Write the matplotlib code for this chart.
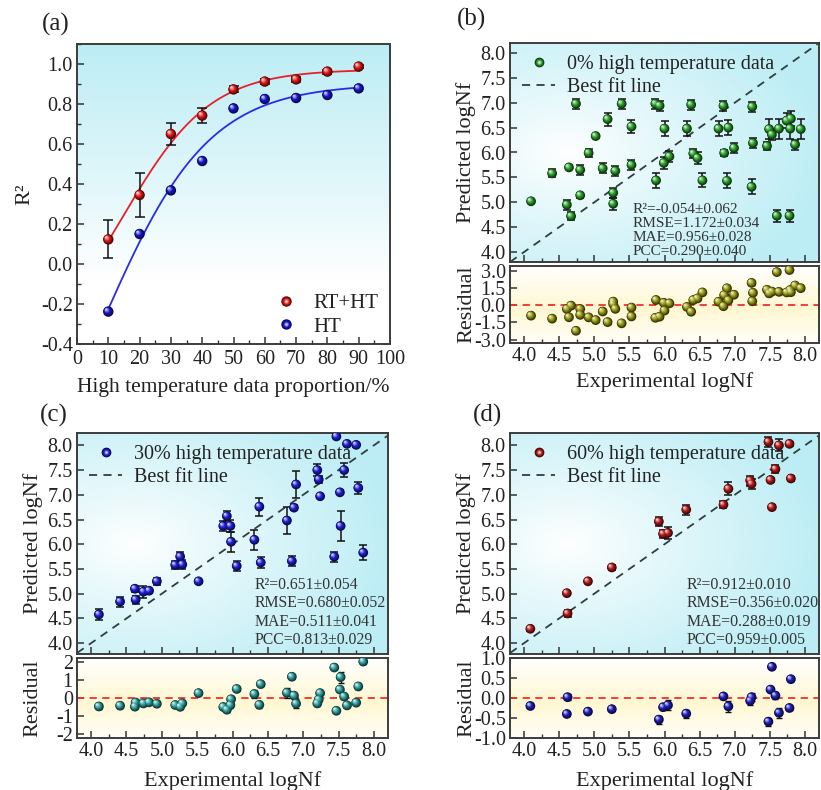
import numpy as np
import matplotlib
matplotlib.use("Agg")
import matplotlib.pyplot as plt
from matplotlib.colors import to_rgb
from matplotlib.transforms import offset_copy
from matplotlib.lines import Line2D
from matplotlib.legend_handler import HandlerTuple
from matplotlib.ticker import MultipleLocator, FormatStrFormatter

plt.rcParams["font.family"] = ["Liberation Serif", "DejaVu Serif"]
plt.rcParams["text.color"] = "#222222"
plt.rcParams["axes.labelcolor"] = "#222222"
plt.rcParams["xtick.color"] = "#333333"
plt.rcParams["ytick.color"] = "#333333"
plt.rcParams["xtick.labelcolor"] = "#222222"
plt.rcParams["ytick.labelcolor"] = "#222222"

# ---------------- (a) R^2 versus high temperature proportion ----------------
proportion = [10, 20, 30, 40, 50, 60, 70, 80, 90]
r2_rtht = [0.123, 0.345, 0.650, 0.742, 0.873, 0.912, 0.923, 0.962, 0.987]
r2_rtht_err = [0.095, 0.110, 0.053, 0.036, 0.015, 0.012, 0.012, 0.010, 0.008]
r2_ht = [-0.238, 0.150, 0.368, 0.515, 0.778, 0.825, 0.830, 0.845, 0.878]

# ---------------- (b) 0 % high temperature data ----------------
b_exp = [4.10, 4.40, 4.61, 4.64, 4.67, 4.74, 4.80, 4.80, 4.92, 5.02, 5.12, 5.19, 5.27, 5.27, 5.30,
         5.39, 5.53, 5.53, 5.87, 5.88, 5.93, 5.99, 6.00, 6.07, 6.32, 6.38, 6.41, 6.47, 6.54, 6.77,
         6.84, 6.85, 6.89, 6.91, 6.99, 7.24, 7.25, 7.26, 7.46, 7.49, 7.53, 7.60, 7.63, 7.74, 7.78,
         7.79, 7.80, 7.86, 7.94]
b_pred = [5.02, 5.58, 4.95, 5.70, 4.72, 6.98, 5.14, 5.65, 5.99, 6.33, 5.68, 6.67, 5.19, 4.97, 5.63,
          6.98, 6.52, 5.75, 6.98, 5.44, 6.94, 5.79, 6.48, 5.92, 6.48, 6.96, 5.98, 5.89, 5.44, 6.48,
          6.94, 5.99, 5.43, 6.50, 6.09, 5.31, 6.92, 6.19, 6.13, 6.47, 6.36, 4.73, 6.48, 6.64, 4.73,
          6.48, 6.68, 6.16, 6.47]
b_err = [0.03, 0.08, 0.10, 0.04, 0.08, 0.10, 0.05, 0.10, 0.08, 0.02, 0.10, 0.13, 0.10, 0.12, 0.10,
         0.10, 0.13, 0.10, 0.10, 0.15, 0.10, 0.12, 0.15, 0.12, 0.15, 0.10, 0.10, 0.12, 0.14, 0.15,
         0.10, 0.06, 0.15, 0.15, 0.10, 0.15, 0.10, 0.10, 0.08, 0.20, 0.10, 0.12, 0.20, 0.15, 0.12,
         0.20, 0.15, 0.10, 0.20]
b_stats = ["R\u00b2=-0.054\u00b10.062", "RMSE=1.172\u00b10.034", "MAE=0.956\u00b10.028", "PCC=0.290\u00b10.040"]

# ---------------- (c) 30 % high temperature data ----------------
c_exp = [4.11, 4.41, 4.62, 4.63, 4.74, 4.82, 4.93, 5.19, 5.26, 5.29, 5.52, 5.87, 5.92, 5.97, 5.98,
         6.06, 6.31, 6.38, 6.40, 6.77, 6.84, 6.87, 6.90, 7.20, 7.22, 7.24, 7.44, 7.47, 7.52, 7.53,
         7.58, 7.62, 7.75, 7.78, 7.85]
c_pred = [4.58, 4.84, 5.10, 4.88, 5.04, 5.06, 5.25, 5.58, 5.75, 5.59, 5.25, 6.37, 6.57, 6.37, 6.05,
          5.56, 6.09, 6.76, 5.63, 6.48, 5.66, 6.74, 7.21, 7.50, 7.31, 6.97, 5.75, 8.18, 7.05, 6.37,
          7.50, 8.03, 8.01, 7.14, 5.83]
c_err = [0.12, 0.10, 0.06, 0.08, 0.12, 0.04, 0.07, 0.08, 0.10, 0.10, 0.03, 0.10, 0.10, 0.12, 0.20,
         0.10, 0.20, 0.18, 0.12, 0.28, 0.10, 0.05, 0.27, 0.12, 0.08, 0.04, 0.10, 0.04, 0.04, 0.30,
         0.15, 0.04, 0.04, 0.12, 0.15]
c_stats = ["R\u00b2=0.651\u00b10.054", "RMSE=0.680\u00b10.052", "MAE=0.511\u00b10.041", "PCC=0.813\u00b10.029"]

# ---------------- (d) 60 % high temperature data ----------------
d_exp = [4.09, 4.61, 4.62, 4.91, 5.25, 5.92, 5.98, 6.05, 6.31, 6.84, 6.91, 7.22, 7.24, 7.48, 7.51,
         7.53, 7.58, 7.63, 7.78, 7.80]
d_pred = [4.29, 5.01, 4.60, 5.25, 5.53, 6.46, 6.21, 6.23, 6.70, 6.80, 7.12, 7.29, 7.22, 8.07, 7.30,
          6.75, 7.52, 8.00, 8.03, 7.33]
d_err = [0.04, 0.03, 0.07, 0.03, 0.05, 0.10, 0.08, 0.12, 0.10, 0.07, 0.13, 0.10, 0.10, 0.10, 0.04,
         0.04, 0.08, 0.12, 0.04, 0.05]
d_stats = ["R\u00b2=0.912\u00b10.010", "RMSE=0.356\u00b10.020", "MAE=0.288\u00b10.019", "PCC=0.959\u00b10.005"]

SPINE = "#3c3c3c"
CYAN = np.array([0.74, 0.93, 0.96])
YELLOW = np.array([1.0, 0.97, 0.82])


def fit_boltzmann(x, y):
    """Least-squares fit of y = A2 + (A1 - A2) / (1 + exp((x - x0) / dx))."""
    x = np.asarray(x, float)
    y = np.asarray(y, float)
    X0, DX = np.meshgrid(np.linspace(-20, 60, 321), np.linspace(2, 40, 305))
    X0 = X0.ravel()[:, None]
    DX = DX.ravel()[:, None]
    w = 1.0 / (1.0 + np.exp((x[None, :] - X0) / DX))
    v = 1.0 - w
    a, b, c = (w * w).sum(1), (w * v).sum(1), (v * v).sum(1)
    d1, d2 = (w * y).sum(1), (v * y).sum(1)
    det = a * c - b * b
    det[np.abs(det) < 1e-10] = np.nan
    A1 = (d1 * c - b * d2) / det
    A2 = (a * d2 - b * d1) / det
    sse = (((A1[:, None] * w + A2[:, None] * v) - y) ** 2).sum(1)
    sse[~np.isfinite(sse)] = np.inf
    k = int(np.argmin(sse))
    return A1[k], A2[k], X0[k, 0], DX[k, 0]


def boltzmann(x, A1, A2, x0, dx):
    return A2 + (A1 - A2) / (1.0 + np.exp((x - x0) / dx))


def sphere_colors(base, n=7):
    rgb = np.array(to_rgb(base))
    dark = rgb * 0.32
    light = rgb + (1 - rgb) * 0.8
    cols = []
    for i in range(n):
        t = i / (n - 1)
        if t < 0.5:
            cols.append(dark + (rgb - dark) * (t / 0.5))
        else:
            cols.append(rgb + (light - rgb) * ((t - 0.5) / 0.5))
    return cols


def spheres(ax, x, y, base, size=7.0, z=5):
    cols = sphere_colors(base)
    n = len(cols)
    for i, col in enumerate(cols):
        t = i / (n - 1)
        d = size * (1 - 0.82 * t)
        off = size * 0.2 * t
        tr = offset_copy(ax.transData, fig=ax.figure, x=-off, y=off, units="points")
        ax.scatter(x, y, s=d ** 2, color=col, edgecolors="none", transform=tr, zorder=z + 0.01 * i)


def sphere_handle(base, size=7.0):
    return tuple(Line2D([], [], ls="none", marker="o", ms=size * (1 - 0.82 * i / 6), mfc=c, mec="none")
                 for i, c in enumerate(sphere_colors(base)))


def background(ax, kind):
    H, W = 200, 200
    v = np.linspace(1, 0, H)[:, None] * np.ones((1, W))
    u = np.ones((H, 1)) * np.linspace(0, 1, W)[None, :]
    if kind == "vertical":
        t = np.clip((v - 0.22) / 0.78, 0, 1) ** 0.9
        col = CYAN
    elif kind == "radial":
        r = np.hypot((u - 0.18) * 1.0, (v - 0.5) * 1.15)
        t = np.clip(r / 0.85, 0, 1) ** 0.9
        col = CYAN
    else:
        t = np.clip(1 - np.abs(v - 0.45) / 0.6, 0, 1) ** 1.2
        col = YELLOW
    img = np.ones((H, W, 3)) * (1 - t[..., None]) + col[None, None, :] * t[..., None]
    ax.imshow(img, extent=[0, 1, 0, 1], transform=ax.transAxes, aspect="auto",
              interpolation="bilinear", zorder=0)


def style(ax):
    for s in ax.spines.values():
        s.set_color(SPINE)
        s.set_linewidth(1.4)
    ax.tick_params(which="both", direction="in", top=False, right=False, labelsize=14.5, pad=3)
    ax.tick_params(which="major", length=5, width=1.1)
    ax.tick_params(which="minor", length=3, width=1.0)


def add_ax(left, top, right, bottom):
    return fig.add_axes([left / 821, 1 - bottom / 790, (right - left) / 821, (bottom - top) / 790])


TUPLE_HANDLER = {tuple: HandlerTuple(ndivide=1, pad=0)}

fig = plt.figure(figsize=(8.21, 7.90), dpi=100)

# ---------------- panel (a) ----------------
ax = add_ax(77, 44, 390, 344)
background(ax, "vertical")
xs = np.linspace(min(proportion), max(proportion), 300)
ax.plot(xs, boltzmann(xs, *fit_boltzmann(proportion, r2_rtht)), color="#e8202a", lw=1.3, zorder=3)
ax.plot(xs, boltzmann(xs, *fit_boltzmann(proportion, r2_ht)), color="#2a2aee", lw=1.3, zorder=3)
ax.errorbar(proportion, r2_rtht, yerr=r2_rtht_err, fmt="none", ecolor="#111111", elinewidth=1.1,
            capsize=3.5, capthick=1.1, zorder=4)
spheres(ax, proportion, r2_rtht, "#e81818", size=7.5)
spheres(ax, proportion, r2_ht, "#1818d8", size=7.5)
ax.set_xlim(0, 100)
ax.set_ylim(-0.4, 1.1)
ax.xaxis.set_major_locator(MultipleLocator(10))
ax.xaxis.set_minor_locator(MultipleLocator(5))
ax.yaxis.set_major_locator(MultipleLocator(0.2))
ax.yaxis.set_minor_locator(MultipleLocator(0.1))
ax.yaxis.set_major_formatter(FormatStrFormatter("%.1f"))
style(ax)
ax.tick_params(axis="x", pad=4)
ax.set_xlabel("High temperature data proportion/%", fontsize=15.5, labelpad=7)
ax.set_ylabel("R\u00b2", fontsize=16)
ax.yaxis.set_label_coords(-0.135, 0.5)
ax.legend([sphere_handle("#e81818", 7.5), sphere_handle("#1818d8", 7.5)], ["RT+HT", "HT"],
          handler_map=TUPLE_HANDLER, loc="lower right", bbox_to_anchor=(0.985, 0.0),
          frameon=False, fontsize=15, handlelength=1.2, handletextpad=0.7, labelspacing=0.2,
          borderaxespad=0.0, borderpad=0.35)
fig.text(56 / 821, 1 - 24 / 790, "(a)", fontsize=18, ha="center", va="center")


def parity_panel(main_box, res_box, exp, pred, err, base, res_base, label, stats, stats_xy,
                 stats_size, stats_spacing, ylim, rylim, rstep, rfmt, xlabelpad, tag, tag_xy):
    lims = (3.8, 8.2)
    ax = add_ax(*main_box)
    background(ax, "radial")
    ax.plot(lims, lims, ls=(0, (4.5, 3.5)), color="#2f3f3f", lw=1.3, zorder=2)
    ax.errorbar(exp, pred, yerr=err, fmt="none", ecolor="#111111", elinewidth=1.1,
                capsize=3.2, capthick=1.1, zorder=3)
    spheres(ax, exp, pred, base, size=7.0)
    ax.set_xlim(*lims)
    ax.set_ylim(*ylim)
    ax.xaxis.set_major_locator(MultipleLocator(0.5))
    ax.xaxis.set_minor_locator(MultipleLocator(0.25))
    ax.yaxis.set_major_locator(MultipleLocator(0.5))
    ax.yaxis.set_major_formatter(FormatStrFormatter("%.1f"))
    style(ax)
    ax.tick_params(labelbottom=False)
    ax.set_ylabel("Predicted logNf", fontsize=16)
    ax.yaxis.set_label_coords(-0.11, 0.5)
    ax.legend([sphere_handle(base, 7.0),
               Line2D([], [], ls=(0, (4.5, 3.5)), color="#2f3f3f", lw=1.3)],
              [label, "Best fit line"], handler_map=TUPLE_HANDLER, loc="upper left",
              frameon=False, fontsize=14.5, handlelength=1.65, handletextpad=0.6,
              labelspacing=0.2, borderaxespad=0.3, borderpad=0.3)
    ax.text(stats_xy[0], stats_xy[1], "\n".join(stats), transform=ax.transAxes, fontsize=stats_size,
            ha="left", va="bottom", linespacing=stats_spacing, color="#333333", zorder=6)

    res = np.asarray(exp) - np.asarray(pred)
    rax = add_ax(*res_box)
    background(rax, "band")
    rax.axhline(0, ls=(0, (4, 3)), color="#ee3030", lw=1.3, zorder=2)
    rax.errorbar(exp, res, yerr=err, fmt="none", ecolor="#111111", elinewidth=1.0,
                 capsize=2.5, capthick=1.0, zorder=3)
    spheres(rax, exp, res, res_base, size=7.0)
    rax.set_xlim(*lims)
    rax.set_ylim(*rylim)
    rax.xaxis.set_major_locator(MultipleLocator(0.5))
    rax.xaxis.set_minor_locator(MultipleLocator(0.25))
    rax.yaxis.set_major_locator(MultipleLocator(rstep))
    rax.yaxis.set_major_formatter(FormatStrFormatter(rfmt))
    rax.xaxis.set_major_formatter(FormatStrFormatter("%.1f"))
    style(rax)
    rax.set_ylabel("Residual", fontsize=16)
    rax.yaxis.set_label_coords(-0.11, 0.5)
    rax.set_xlabel("Experimental logNf", fontsize=16, labelpad=xlabelpad)
    fig.text(tag_xy[0] / 821, 1 - tag_xy[1] / 790, tag, fontsize=18, ha="center", va="center")


parity_panel((510, 43, 819, 262), (510, 266, 819, 343), b_exp, b_pred, b_err, "#2aa02a", "#9a9a12",
             "0% high temperature data", b_stats, (0.395, 0.02), 11.0, 1.08, (3.8, 8.2), (-3.3, 3.4),
             1.5, "%.1f", 4, "(b)", (471, 19))
parity_panel((77, 433, 388, 654), (77, 658, 388, 738), c_exp, c_pred, c_err, "#2020e0", "#2e9e9e",
             "30% high temperature data", c_stats, (0.572, 0.025), 11.3, 1.22, (3.78, 8.25),
             (-2.22, 2.22), 1, "%.0f", 7, "(c)", (54, 415))
parity_panel((510, 433, 819, 654), (510, 658, 819, 738), d_exp, d_pred, d_err, "#b81a1a", "#2020c0",
             "60% high temperature data", d_stats, (0.57, 0.025), 11.4, 1.22, (3.78, 8.25),
             (-1.0, 1.0), 0.5, "%.1f", 7, "(d)", (487, 415))

fig.savefig("out.png", dpi=100)
